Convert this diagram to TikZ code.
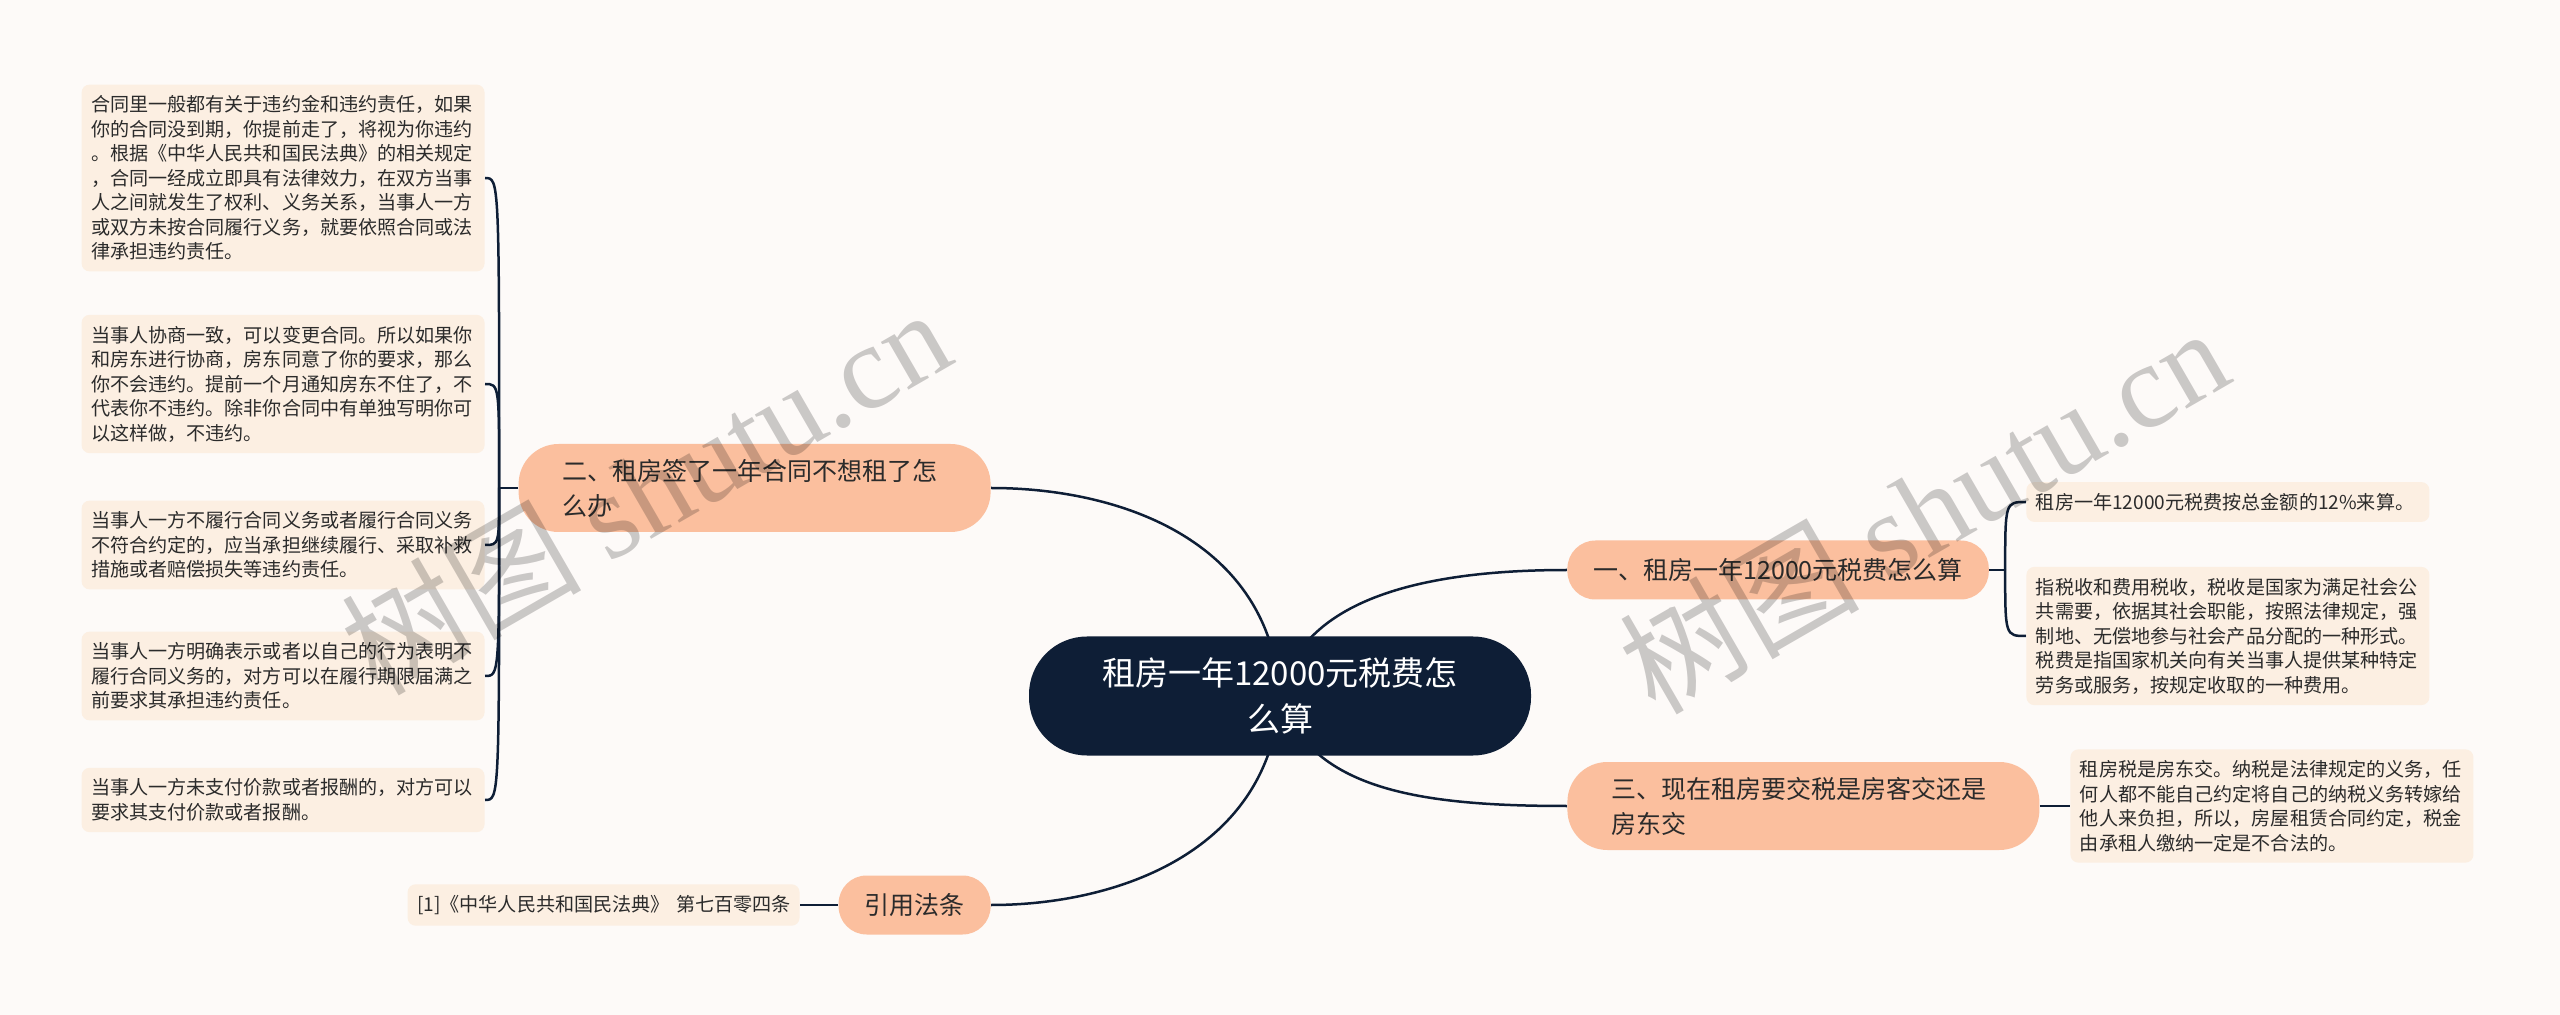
\documentclass[tikz,border=0pt]{standalone}
\usepackage{fontspec}
\setmainfont{Noto Sans CJK SC}
\newfontfamily\wmlatin{Liberation Serif}
\usetikzlibrary{backgrounds}
\definecolor{paper}{HTML}{FDFAF8}
\definecolor{ink}{HTML}{0E1E36}
\definecolor{peach}{HTML}{FBBF9E}
\definecolor{cream}{HTML}{FCEFE2}
\definecolor{txt}{HTML}{2B2B2B}

\begin{document}
\begin{tikzpicture}[
  x=0.5pt,y=-0.5pt,
  link/.style={draw=ink,line width=1.25pt},
  hub/.style={fill=ink,text=white,rounded corners=29pt,minimum width=251pt,
    minimum height=59.5pt,align=center,font=\fontsize{16.5}{23}\selectfont},
  topic/.style={fill=peach,text=txt,rounded corners=14pt,minimum height=29.5pt,
    inner xsep=13pt,font=\fontsize{12.5}{17.5}\selectfont},
  topicwide/.style={topic,rounded corners=20pt,minimum height=44pt,
    inner xsep=22pt,text width=192pt,align=left},
  note/.style={fill=cream,text=txt,rounded corners=4pt,inner xsep=4.75pt,
    inner ysep=5.5pt,text width=192pt,align=left,
    font=\fontsize{9.55}{12.25}\selectfont},
  wm/.style={text=black,text opacity=0.2,rotate=30,
    font=\fontsize{60}{60}\selectfont}
]
  \useasboundingbox (0,0) rectangle (2560,1015);

  % centre and the four topics
  \node[hub] (root) at (1280,696) {租房一年12000元税费怎\\么算};
  \node[topic,anchor=west] (t1) at (1567,570) {一、租房一年12000元税费怎么算};
  \node[topicwide,anchor=east] (t2) at (991,488) {二、租房签了一年合同不想租了怎\\么办};
  \node[topicwide,anchor=west] (t3) at (1567,806) {三、现在租房要交税是房客交还是\\房东交};
  \node[topic,anchor=east] (t4) at (991,905) {引用法条};

  % left notes
  \node[note,anchor=east] (l1) at (485,178) {合同里一般都有关于违约金和违约责任，如果\\
    你的合同没到期，你提前走了，将视为你违约\\
    。根据《中华人民共和国民法典》的相关规定\\
    ，合同一经成立即具有法律效力，在双方当事\\
    人之间就发生了权利、义务关系，当事人一方\\
    或双方未按合同履行义务，就要依照合同或法\\
    律承担违约责任。};
  \node[note,anchor=east] (l2) at (485,384) {当事人协商一致，可以变更合同。所以如果你\\
    和房东进行协商，房东同意了你的要求，那么\\
    你不会违约。提前一个月通知房东不住了，不\\
    代表你不违约。除非你合同中有单独写明你可\\
    以这样做，不违约。};
  \node[note,anchor=east] (l3) at (485,545) {当事人一方不履行合同义务或者履行合同义务\\
    不符合约定的，应当承担继续履行、采取补救\\
    措施或者赔偿损失等违约责任。};
  \node[note,anchor=east] (l4) at (485,676) {当事人一方明确表示或者以自己的行为表明不\\
    履行合同义务的，对方可以在履行期限届满之\\
    前要求其承担违约责任。};
  \node[note,anchor=east] (l5) at (485,800) {当事人一方未支付价款或者报酬的，对方可以\\
    要求其支付价款或者报酬。};
  \node[note,text width=186.5pt,anchor=east] (cite) at (800,905)
    {[1]《中华人民共和国民法典》~第七百零四条};

  % right notes
  \node[note,anchor=west] (r1) at (2026,502) {租房一年12000元税费按总金额的12\%来算。};
  \node[note,anchor=west] (r2) at (2026,636) {指税收和费用税收，税收是国家为满足社会公\\
    共需要，依据其社会职能，按照法律规定，强\\
    制地、无偿地参与社会产品分配的一种形式。\\
    税费是指国家机关向有关当事人提供某种特定\\
    劳务或服务，按规定收取的一种费用。};
  \node[note,anchor=west] (r3) at (2070,806) {租房税是房东交。纳税是法律规定的义务，任\\
    何人都不能自己约定将自己的纳税义务转嫁给\\
    他人来负担，所以，房屋租赁合同约定，税金\\
    由承租人缴纳一定是不合法的。};

  \coordinate (lfork) at ([xshift=-9.5pt]t2.west);
  \coordinate (rfork) at ([xshift=8pt]t1.east);

  \begin{scope}[on background layer]
    \fill[paper] (0,0) rectangle (2560,1015);
    \draw[link] (root.center) .. controls +(20,-96) and +(-147,0) .. (t1.west);
    \draw[link] (root.center) .. controls +(-10,-156) and +(129,0) .. (t2.east);
    \draw[link] (root.center) .. controls +(30,94) and +(-147,0) .. (t3.west);
    \draw[link] (root.center) .. controls +(-10,154) and +(129,0) .. (t4.east);
    \draw[link] (t2.west) -- (lfork);
    \foreach \n in {1,...,5}
      \draw[link] (lfork) .. controls (lfork |- l\n.east) .. (l\n.east);
    \draw[link] (t1.east) -- (rfork);
    \foreach \n in {1,2}
      \draw[link] (rfork) .. controls (rfork |- r\n.west) .. (r\n.west);
    \draw[link] (t3.east) -- (r3.west);
    \draw[link] (t4.west) -- (cite.east);
  \end{scope}

  % watermark
  \node[wm] (wmleft) at (645,490) {树图 {\wmlatin shutu.cn}};
  \node[wm] (wmright) at (1923,509) {树图 {\wmlatin shutu.cn}};
\end{tikzpicture}
\end{document}
